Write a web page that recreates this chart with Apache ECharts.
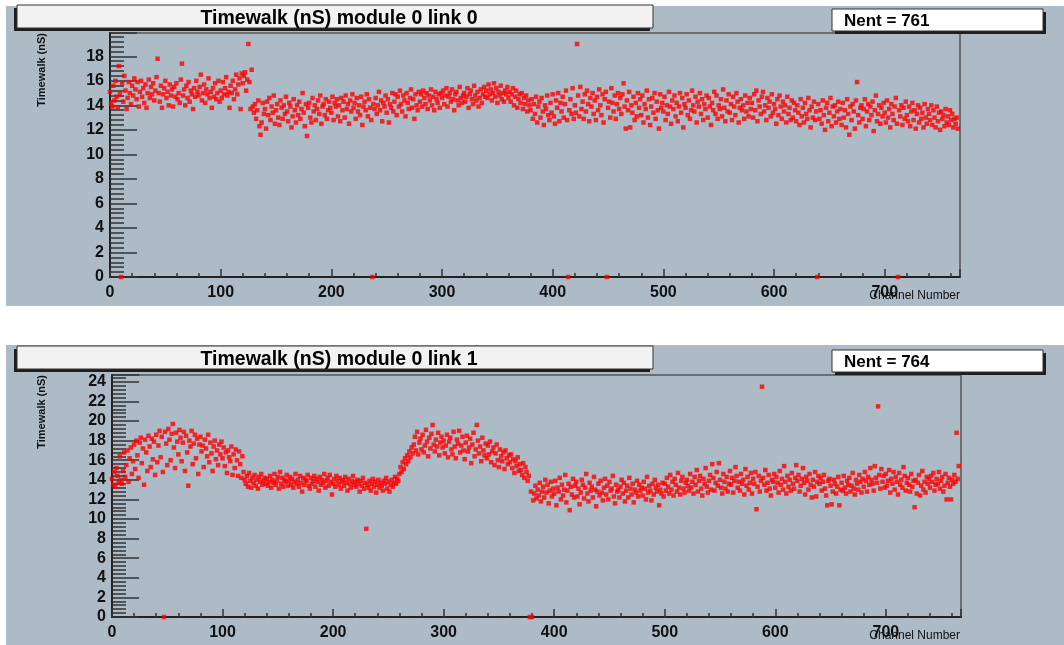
<!DOCTYPE html>
<html>
<head>
<meta charset="utf-8">
<title>Timewalk</title>
<script src="https://cdn.jsdelivr.net/npm/echarts@6/dist/echarts.min.js"></script>
<style>
  html, body { margin: 0; padding: 0; background: #ffffff; }
  #main { width: 1064px; height: 645px; }
</style>
</head>
<body>
<div id="main"></div>
<script>
// 标题和条目数
const titles = ['Timewalk (nS) module 0 link 0', 'Timewalk (nS) module 0 link 1'];
const nent = [761, 764];
const yName = 'Timewalk (nS)';
const xName = 'Channel Number';

// link 0: one value per channel (index = channel)
const link0 = [
  15.1, 14.2, 13.9, 15.6, 14.4, 16.0, 14.7, 13.8, 17.2, 14.9, 0, 15.8, 14.3, 16.4, 15.2, 13.7, 14.6, 15.9, 15.0, 14.1,
  15.6, 14.8, 16.2, 15.3, 14.5, 15.9, 13.9, 15.1, 16.0, 14.7, 15.4, 14.2, 15.7, 13.8, 15.0, 16.1, 14.6, 15.5, 14.9, 15.8,
  14.4, 15.2, 16.3, 17.8, 15.0, 14.3, 15.6, 13.8, 14.9, 15.4, 16.0, 14.6, 15.1, 14.0, 15.7, 14.8, 15.3, 13.9, 15.5, 14.7,
  15.8, 14.5, 15.0, 14.2, 16.1, 17.4, 14.8, 15.3, 14.0, 15.6, 14.6, 15.9, 14.3, 15.2, 14.9, 13.7, 15.4, 14.7, 16.0, 15.1,
  14.8, 15.5, 16.5, 14.4, 15.0, 15.7, 14.2, 15.3, 14.9, 16.2, 14.6, 15.1, 13.8, 15.4, 14.7, 15.8, 14.5, 15.0, 16.0, 14.3,
  15.2, 14.6, 15.9, 14.9, 15.4, 16.3, 14.8, 15.1, 13.8, 15.6, 15.0, 16.0, 14.5, 15.3, 16.5, 14.9, 15.7, 16.2, 13.7, 16.6,
  15.8, 16.4, 16.7, 15.2, 16.1, 19.0, 15.9, 13.7, 16.9, 13.9, 13.4, 14.1, 12.9, 13.6, 14.4, 12.3, 11.6, 12.6, 14.2, 13.3,
  13.7, 12.1, 14.3, 13.2, 14.6, 12.8, 13.9, 13.4, 14.8, 12.5, 13.6, 14.1, 13.0, 12.4, 14.4, 13.8, 12.9, 14.0, 13.3, 14.7,
  13.5, 12.7, 14.2, 13.9, 12.2, 13.1, 14.5, 13.6, 12.6, 14.0, 13.2, 14.3, 12.9, 13.7, 15.0, 13.4, 12.3, 14.1, 11.5, 13.8,
  14.2, 13.0, 12.6, 14.6, 13.5, 14.0, 12.8, 13.7, 14.4, 13.3, 14.8, 12.5, 13.9, 14.1, 13.2, 14.5, 12.9, 13.6, 14.3, 13.8,
  13.4, 14.7, 12.8, 14.2, 13.9, 14.5, 13.1, 14.0, 12.7, 14.6, 13.6, 14.3, 13.0, 14.8, 13.7, 14.1, 12.5, 14.4, 13.5, 14.9,
  13.8, 14.2, 12.9, 14.6, 13.5, 14.0, 13.2, 14.7, 12.4, 13.9, 14.3, 13.6, 14.9, 13.1, 14.5, 13.8, 12.8, 0, 14.1, 13.7,
  14.6, 13.3, 14.0, 15.1, 13.6, 14.4, 12.7, 14.2, 13.9, 14.8, 13.4, 14.5, 12.6, 14.1, 13.8, 15.0, 13.5, 14.3, 14.9, 13.2,
  14.7, 13.9, 15.2, 14.1, 13.5, 14.8, 14.4, 13.1, 15.0, 14.2, 13.7, 14.6, 15.3, 13.8, 14.5, 12.9, 14.9, 14.0, 13.6, 15.1,
  14.3, 14.9, 13.9, 15.2, 14.6, 14.1, 15.0, 13.7, 14.8, 14.4, 15.3, 14.0, 14.7, 13.6, 15.1, 14.5, 14.2, 14.9, 13.8, 15.0,
  14.6, 15.2, 14.1, 14.8, 15.4, 13.9, 14.7, 15.0, 14.3, 15.3, 14.5, 13.6, 14.9, 15.1, 14.4, 14.0, 15.5, 14.6, 14.2, 14.8,
  15.0, 14.3, 14.7, 15.4, 13.8, 14.9, 15.2, 14.5, 14.1, 15.6, 14.8, 14.4, 15.1, 13.9, 14.6, 15.3, 14.2, 14.9, 15.5, 14.7,
  15.2, 14.6, 15.7, 14.9, 15.3, 14.4, 15.0, 15.8, 14.7, 15.4, 14.2, 15.1, 14.8, 15.6, 14.5, 15.0, 14.3, 15.2, 14.9, 15.5,
  14.6, 15.1, 14.3, 14.9, 15.4, 14.0, 14.7, 15.2, 13.8, 14.5, 14.9, 14.2, 15.0, 13.7, 14.6, 14.1, 14.8, 13.5, 14.4, 14.0,
  13.6, 14.5, 12.9, 14.1, 13.3, 14.7, 12.6, 13.9, 14.3, 13.0, 14.6, 13.5, 12.4, 14.0, 13.7, 14.8, 13.2, 12.8, 14.2, 13.4,
  14.9, 13.1, 12.5, 14.4, 13.8, 15.0, 12.7, 14.2, 13.5, 14.7, 13.0, 14.1, 15.2, 12.8, 0, 13.6, 14.5, 13.3, 15.4, 12.9,
  14.0, 13.4, 19.0, 14.8, 13.1, 15.5, 13.7, 14.3, 12.9, 14.9, 13.5, 15.2, 14.1, 12.7, 14.6, 13.9, 15.0, 13.3, 14.4, 12.8,
  14.7, 13.6, 15.3, 14.0, 13.2, 14.9, 12.6, 14.5, 15.1, 0, 13.8, 14.3, 13.0, 15.4, 14.2, 13.5, 14.8, 12.9, 14.1, 15.0,
  13.7, 14.6, 13.3, 14.9, 15.8, 13.9, 12.1, 14.4, 13.6, 15.1, 12.2, 14.0, 13.4, 14.7, 12.8, 14.2, 13.1, 15.0, 13.8, 14.5,
  13.2, 14.8, 12.6, 14.1, 13.7, 15.2, 13.0, 14.5, 12.4, 13.9, 14.6, 13.4, 15.0, 12.9, 14.3, 13.6, 12.1, 14.9, 13.8, 14.2,
  13.5, 14.7, 12.8, 14.0, 13.3, 15.1, 13.9, 12.5, 14.4, 13.7, 14.8, 13.1, 14.2, 12.7, 13.9, 15.0, 13.4, 14.6, 12.2, 14.1,
  13.8, 14.9, 13.2, 14.4, 12.9, 13.6, 15.2, 14.0, 13.5, 14.7, 12.6, 14.3, 13.9, 15.0, 13.3, 14.5, 12.8, 14.1, 13.7, 14.8,
  13.0, 14.6, 13.9, 12.4, 14.2, 13.6, 15.1, 13.3, 14.8, 12.9, 14.0, 13.7, 14.5, 13.1, 15.3, 13.8, 12.7, 14.4, 13.5, 14.9,
  13.4, 14.1, 12.8, 14.7, 13.9, 13.2, 15.0, 14.3, 12.6, 13.8, 14.5, 13.6, 14.0, 12.9, 14.8, 13.5, 14.2, 13.1, 14.6, 13.7,
  14.2, 13.0, 14.9, 13.6, 15.2, 12.7, 14.4, 13.9, 13.3, 14.7, 15.1, 13.5, 14.0, 12.8, 14.6, 13.8, 14.3, 13.1, 14.9, 13.4,
  14.1, 13.7, 12.5, 14.5, 13.2, 14.8, 13.9, 12.9, 14.3, 13.5, 14.0, 12.6, 14.7, 13.3, 13.8, 12.8, 14.4, 13.0, 14.2, 13.6,
  12.7, 14.0, 13.4, 12.4, 14.5, 13.1, 13.8, 12.6, 14.2, 13.3, 12.9, 14.6, 13.6, 12.2, 13.9, 13.0, 14.3, 12.8, 13.5, 0,
  14.1, 12.9, 13.6, 12.5, 14.4, 13.2, 12.0, 13.8, 14.2, 12.7, 13.4, 14.6, 12.3, 13.9, 13.1, 14.0, 12.6, 13.5, 14.3, 12.9,
  13.7, 12.4, 14.2, 13.0, 13.6, 12.2, 14.5, 13.3, 11.6, 13.9, 12.8, 14.1, 13.5, 12.1, 14.4, 15.9, 13.2, 12.6, 13.8, 14.0,
  12.9, 13.7, 14.5, 12.3, 13.5, 14.1, 12.8, 13.9, 13.2, 14.3, 11.9, 13.6, 14.8, 12.7, 13.3, 14.0, 12.5, 13.8, 13.1, 14.2,
  13.4, 12.6, 14.4, 13.0, 13.7, 12.2, 14.1, 13.3, 12.8, 13.9, 14.6, 12.5, 0, 13.6, 13.1, 14.0, 12.4, 13.8, 12.9, 14.3,
  13.2, 12.7, 13.9, 12.3, 13.5, 14.2, 12.8, 13.6, 12.1, 13.3, 14.0, 12.6, 13.8, 12.9, 13.4, 12.2, 14.1, 13.0, 12.5, 13.7,
  13.3, 12.8, 14.0, 12.4, 13.6, 13.0, 12.2, 13.9, 12.7, 13.4, 12.0, 13.5, 12.9, 13.2, 12.3, 13.7, 12.6, 13.1, 12.4, 13.6,
  12.8, 13.3, 12.2, 12.9, 12.5, 13.0, 12.1
];

// link 1
const link1 = [
  14.1, 13.5, 14.8, 13.3, 15.2, 14.4, 13.7, 16.4, 14.0, 13.6, 14.9, 16.8, 14.3, 15.5, 17.0, 13.8, 16.2, 17.3, 14.6, 15.9,
  17.6, 15.1, 18.0, 16.5, 14.2, 17.8, 18.3, 15.7, 17.2, 13.5, 18.1, 16.8, 14.9, 18.5, 17.4, 15.3, 18.2, 16.1, 17.9, 14.5,
  18.6, 15.8, 17.5, 19.0, 16.3, 18.4, 14.8, 0, 18.9, 17.7, 15.5, 19.2, 18.1, 16.0, 18.7, 19.7, 17.3, 15.2, 18.8, 17.9,
  16.6, 19.1, 18.3, 15.9, 17.8, 18.9, 14.9, 18.5, 16.8, 13.4, 18.0, 17.4, 19.0, 15.6, 17.7, 18.6, 16.2, 18.2, 14.6, 17.6,
  18.4, 16.9, 17.5, 15.3, 18.1, 17.2, 16.4, 18.6, 15.8, 17.8, 16.7, 14.9, 17.4, 18.0, 16.1, 17.0, 15.5, 17.6, 16.6, 17.9,
  16.2, 17.3, 15.4, 16.8, 14.7, 17.0, 16.3, 15.9, 17.4, 14.5, 16.6, 15.2, 17.1, 16.0, 14.4, 16.9, 15.6, 14.2, 16.4, 14.8,
  14.0, 13.6, 14.4, 13.3, 14.7, 13.9, 13.2, 14.2, 13.7, 14.5, 13.4, 14.0, 13.1, 14.3, 13.8, 14.6, 13.5, 13.9, 14.2, 13.6,
  14.1, 13.4, 13.8, 14.4, 13.2, 14.0, 13.7, 14.6, 13.5, 13.9, 14.3, 13.1, 14.8, 13.6, 14.2, 13.3, 14.0, 13.8, 14.5, 13.4,
  13.9, 14.3, 13.5, 14.1, 13.2, 13.8, 14.6, 13.6, 14.0, 13.3, 14.4, 13.7, 12.8, 14.2, 13.5, 14.0, 13.9, 14.5, 13.4, 13.1,
  14.2, 13.6, 13.9, 14.4, 13.3, 14.1, 13.8, 12.9, 14.3, 13.5, 14.0, 13.7, 14.6, 13.2, 13.9, 14.2, 13.4, 14.5, 13.8, 12.5,
  13.6, 14.1, 13.3, 14.4, 13.9, 13.5, 14.2, 13.1, 13.8, 14.0, 13.4, 14.3, 13.7, 12.9, 14.1, 13.6, 13.2, 13.9, 14.4, 13.5,
  13.8, 13.3, 14.0, 13.6, 12.8, 13.9, 13.4, 14.2, 13.1, 13.7, 9.0, 13.5, 13.2, 13.9, 12.9, 13.6, 14.1, 13.3, 13.8, 12.7,
  13.5, 14.0, 13.2, 13.7, 13.4, 12.9, 13.9, 13.6, 14.2, 13.1, 13.8, 12.8, 13.5, 14.0, 13.3, 13.7, 14.3, 13.6, 14.1, 13.9,
  14.6, 15.3, 14.8, 15.8, 15.1, 16.2, 15.6, 16.5, 15.9, 16.9, 16.3, 17.3, 16.7, 17.6, 18.4, 17.0, 18.9, 16.6, 17.8, 18.2,
  17.1, 18.6, 16.8, 17.5, 19.1, 17.9, 16.4, 18.3, 17.2, 18.7, 19.6, 17.6, 16.9, 18.1, 17.4, 18.8, 16.5, 17.8, 18.4, 17.3,
  18.0, 16.7, 17.5, 18.6, 16.3, 17.9, 18.3, 17.1, 16.6, 18.9, 17.4, 16.2, 18.1, 17.7, 19.0, 16.8, 17.5, 18.4, 17.0, 16.1,
  17.8, 18.5, 16.9, 17.3, 18.2, 15.7, 17.6, 18.8, 16.4, 17.1, 19.6, 18.0, 16.7, 17.4, 15.9, 18.3, 17.0, 16.5, 17.7, 16.2,
  17.5, 16.6, 17.9, 15.8, 16.9, 17.3, 15.5, 16.7, 17.6, 16.0, 15.3, 17.1, 16.4, 15.9, 16.8, 15.1, 17.0, 16.2, 15.6, 16.5,
  15.8, 16.6, 15.2, 16.1, 14.7, 15.9, 15.4, 16.3, 14.9, 15.6, 15.0, 14.5, 15.7, 14.2, 15.3, 14.8, 13.9, 14.4, 0, 12.8,
  0, 11.9, 12.6, 13.4, 12.1, 13.0, 12.4, 13.7, 11.8, 12.8, 13.3, 12.2, 14.0, 12.7, 13.5, 11.6, 12.9, 13.8, 12.3, 13.1,
  12.6, 13.9, 11.4, 13.2, 12.8, 14.2, 12.0, 13.5, 12.4, 13.0, 14.5, 11.7, 12.9, 13.6, 10.9, 13.3, 12.5, 14.1, 12.2, 13.4,
  13.8, 12.3, 13.1, 11.5, 12.7, 14.0, 13.5, 12.1, 13.2, 14.6, 12.6, 11.8, 13.7, 12.9, 13.3, 12.2, 14.3, 13.0, 11.3, 12.8,
  13.6, 12.4, 13.9, 12.7, 11.9, 13.2, 14.1, 12.5, 13.4, 12.0, 13.8, 12.9, 13.1, 14.4, 12.3, 11.6, 13.5, 12.8, 13.0, 12.2,
  13.3, 14.0, 12.6, 13.7, 11.8, 12.9, 13.4, 12.2, 14.2, 13.1, 12.5, 13.6, 11.7, 13.0, 12.7, 13.9, 12.3, 13.5, 12.9, 13.2,
  12.4, 13.8, 13.1, 12.0, 14.3, 12.7, 13.4, 12.9, 11.9, 13.6, 12.5, 14.0, 13.2, 12.8, 13.5, 11.4, 13.0, 12.6, 13.7, 12.3,
  13.6, 12.9, 14.2, 13.3, 12.6, 14.5, 13.0, 13.8, 12.4, 14.1, 13.5, 12.8, 14.7, 13.2, 12.5, 13.9, 14.3, 13.1, 12.7, 13.7,
  14.0, 13.4, 12.9, 14.6, 13.2, 13.8, 12.6, 14.3, 13.5, 15.0, 12.8, 13.9, 14.4, 13.1, 12.4, 14.1, 13.6, 15.2, 13.3, 12.7,
  13.9, 14.5, 13.0, 15.6, 14.2, 12.9, 13.7, 14.8, 13.4, 15.7, 14.0, 13.2, 12.6, 14.6, 13.8, 13.1, 14.3, 12.8, 13.6, 14.9,
  13.5, 14.2, 12.7, 13.9, 15.3, 14.4, 13.2, 13.8, 12.9, 14.6, 13.6, 14.0, 12.5, 15.1, 13.4, 14.3, 13.0, 13.7, 14.7, 12.6,
  14.1, 13.6, 14.8, 11.0, 13.3, 14.4, 12.8, 13.9, 23.5, 14.2, 13.5, 15.0, 12.9, 13.7, 14.5, 13.1, 12.4, 14.0, 13.8, 14.6,
  13.2, 14.3, 13.7, 12.7, 14.9, 13.5, 14.1, 13.0, 15.4, 13.8, 12.6, 14.4, 13.3, 14.0, 12.9, 14.7, 13.6, 13.1, 14.2, 15.5,
  13.9, 14.5, 12.8, 13.4, 14.1, 15.2, 13.7, 12.5, 14.3, 13.9, 13.0, 14.6, 13.5, 12.2, 14.0, 13.3, 14.8, 12.3, 13.8, 14.4,
  13.6, 14.2, 12.9, 13.8, 14.5, 13.1, 12.4, 11.4, 13.9, 14.1, 13.4, 11.5, 12.8, 14.0, 13.6, 12.6, 13.3, 14.3, 11.4, 13.0,
  13.7, 12.9, 14.4, 13.2, 12.6, 13.9, 13.5, 14.2, 12.8, 13.4, 14.7, 13.1, 12.5, 14.0, 13.6, 13.0, 14.5, 13.8, 12.7, 14.1,
  13.3, 14.8, 13.9, 12.8, 14.3, 13.5, 15.2, 14.0, 13.6, 12.9, 15.4, 14.2, 13.7, 21.5, 14.5, 13.1, 15.1, 13.8, 14.4, 13.2,
  14.6, 13.4, 13.9, 15.0, 12.7, 14.1, 13.6, 14.8, 13.0, 14.3, 13.8, 12.5, 14.7, 13.5, 14.0, 13.2, 15.3, 14.4, 12.9, 13.7,
  14.2, 13.5, 12.8, 14.6, 13.3, 13.9, 11.2, 14.0, 12.6, 13.7, 14.5, 12.4, 13.4, 14.9, 13.0, 13.8, 12.7, 14.3, 13.6, 14.1,
  13.2, 14.4, 13.8, 14.7, 12.9, 13.5, 14.1, 13.6, 14.8, 13.1, 13.9, 14.3, 12.8, 13.4, 14.6, 12.0, 13.7, 14.2, 13.3, 12.0,
  14.0, 13.6, 14.5, 13.8, 18.8, 14.1, 15.4
];

// 坐标轴范围
const xMax = 768;
const yMax = [19.9, 24.7];

document.addEventListener('DOMContentLoaded', function () {
  const myChart = echarts.init(document.getElementById('main'), null, { renderer: 'canvas' });
  window.addEventListener('resize', () => myChart.resize());

  const bg = '#adbbc6';
  const labelFont = { color: '#111', fontWeight: 'bold', fontSize: 16, fontFamily: 'Liberation Sans, Arial, sans-serif' };

  function xAxisFor(i) {
    return {
      type: 'value', gridIndex: i, min: 0, max: xMax, interval: 100,
      axisLine: { show: true, onZero: false, lineStyle: { color: '#222', width: 2 } },
      axisTick: { inside: true, length: 8, lineStyle: { color: '#333', width: 1.5 } },
      minorTick: { show: true, splitNumber: 5, length: 4, lineStyle: { color: '#333', width: 1.5 } },
      axisLabel: Object.assign({ margin: 8, showMaxLabel: false }, labelFont),
      splitLine: { show: false }
    };
  }
  function yAxisFor(i) {
    return {
      type: 'value', gridIndex: i, min: 0, max: yMax[i], interval: 2,
      axisLine: { show: true, onZero: false, lineStyle: { color: '#222', width: 2 } },
      axisTick: { inside: true, length: 27, lineStyle: { color: '#333', width: 1.5 } },
      minorTick: { show: true, splitNumber: 5, length: 14, lineStyle: { color: '#333', width: 1.5 } },
      axisLabel: Object.assign({ margin: 6, showMaxLabel: false }, labelFont),
      splitLine: { show: false }
    };
  }

  // 面板背景、标题框、Nent框
  const panels = [
    { top: 6, titleY: 5, nentY: 9, axisTop: 33, axisBottom: 277 },
    { top: 345, titleY: 346, nentY: 350, axisTop: 375, axisBottom: 617 }
  ];
  const graphics = [];
  panels.forEach((p, i) => {
    graphics.push({ type: 'rect', z: -10, silent: true, shape: { x: 6, y: p.top, width: 1058, height: 300 }, style: { fill: bg } });
    // title box (shadow bottom-left)
    graphics.push({ type: 'rect', z: 50, silent: true, shape: { x: 14, y: p.titleY + 3, width: 636, height: 23 }, style: { fill: '#1e1e1e' } });
    graphics.push({ type: 'rect', z: 51, silent: true, shape: { x: 17, y: p.titleY, width: 636, height: 23 }, style: { fill: '#f2f2f2', stroke: '#333', lineWidth: 1 } });
    // Nent box (shadow bottom-right)
    graphics.push({ type: 'rect', z: 50, silent: true, shape: { x: 835, y: p.nentY + 3, width: 211, height: 22 }, style: { fill: '#1e1e1e' } });
    graphics.push({ type: 'rect', z: 51, silent: true, shape: { x: 832, y: p.nentY, width: 211, height: 22 }, style: { fill: '#ffffff', stroke: '#333', lineWidth: 1 } });
    graphics.push({ type: 'text', z: 52, silent: true, x: 844, y: p.nentY + 12,
      style: { text: 'Nent = ' + nent[i], font: 'bold 17px "Liberation Sans", Arial, sans-serif', fill: '#000', align: 'left', verticalAlign: 'middle' } });
    // axis names
    graphics.push({ type: 'text', z: 52, silent: true, x: 42, y: p.axisTop, rotation: Math.PI / 2,
      style: { text: yName, font: 'bold 11px "Liberation Sans", Arial, sans-serif', fill: '#111', align: 'right', verticalAlign: 'middle' } });
    graphics.push({ type: 'text', z: 52, silent: true, x: 960, y: p.axisBottom + 19,
      style: { text: xName, font: '12px "Liberation Sans", Arial, sans-serif', fill: '#111', align: 'right', verticalAlign: 'middle' } });
  });

  const option = {
    backgroundColor: '#ffffff',
    animation: false,
    title: titles.map((t, i) => ({
      text: t, left: 339, top: i === 0 ? 8 : 349, textAlign: 'center', padding: 0, z: 60,
      textStyle: { color: '#000', fontWeight: 'bold', fontSize: 19.5, lineHeight: 22, fontFamily: 'Liberation Sans, Arial, sans-serif' }
    })),
    graphic: graphics,
    grid: [
      { left: 110, top: 33, right: 104, bottom: 368, show: true, borderColor: '#555', borderWidth: 1.5, backgroundColor: 'transparent' },
      { left: 112, top: 375, right: 103, bottom: 28, show: true, borderColor: '#555', borderWidth: 1.5, backgroundColor: 'transparent' }
    ],
    xAxis: [xAxisFor(0), xAxisFor(1)],
    yAxis: [yAxisFor(0), yAxisFor(1)],
    series: [link0, link1].map((arr, i) => ({
      type: 'scatter',
      xAxisIndex: i, yAxisIndex: i,
      symbol: 'rect', symbolSize: 4.5,
      itemStyle: { color: '#ff0000' },
      data: arr.map((v, ch) => [ch, v])
    }))
  };

  myChart.setOption(option);
});
</script>
</body>
</html>
